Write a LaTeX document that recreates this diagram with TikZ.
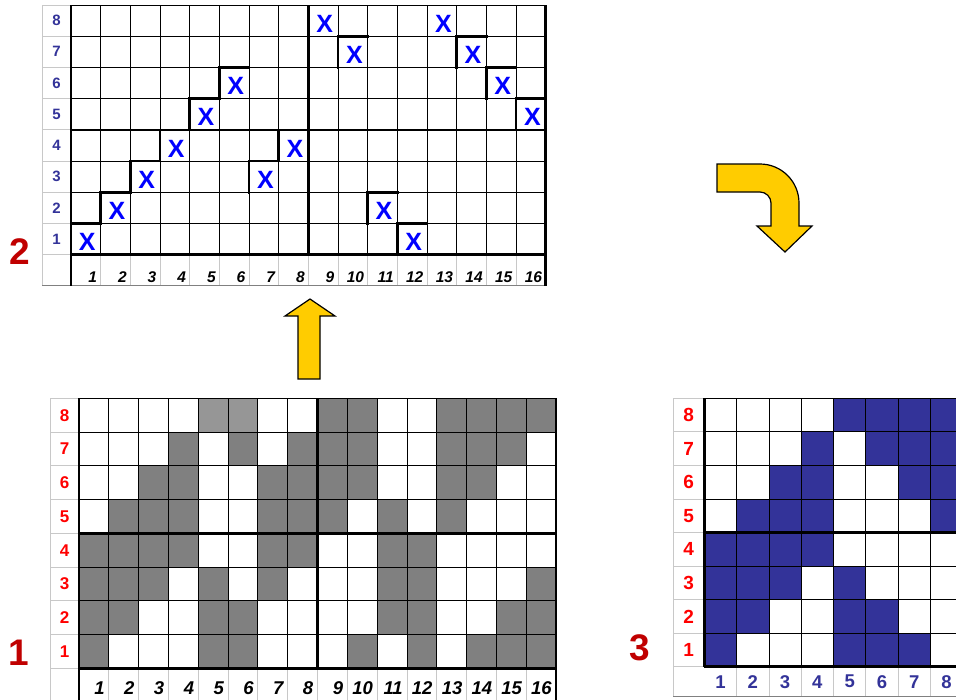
\documentclass[tikz,border=0pt]{standalone}
\usepackage{fontspec}
\setmainfont{Liberation Sans}
\definecolor{cellgray}{HTML}{808080}
\definecolor{lightcell}{HTML}{969696}
\definecolor{navy}{HTML}{333399}
\definecolor{xblue}{HTML}{0000FF}
\definecolor{bigred}{HTML}{C00000}
\definecolor{labred}{HTML}{FF0000}
\definecolor{arrowfill}{HTML}{FFCC00}
\definecolor{framegray}{HTML}{C8C8C8}
\definecolor{botgray}{HTML}{808080}
\newcommand\gridframe{%
  \foreach \i in {0,...,8} \draw[labline] (\grL,{\grY+\i*\grH}) -- (\grX,{\grY+\i*\grH});
  \draw[labline] (\grL,\grY) -- (\grL,\grB);
  \draw[labline] (\grX,\grY) -- ({\grX+\grN*\grW},\grY);
  \foreach \i in {1,...,\grN} \draw[labline] ({\grX+\i*\grW},{\grY+8*\grH}) -- ({\grX+\i*\grW},\grB);
  \draw[botline] (\grL,\grB) -- ({\grX+\grN*\grW},\grB);
  \foreach \i in {1,...,\grN} \draw[cellline] ({\grX+\i*\grW},\grY) -- ({\grX+\i*\grW},{\grY+8*\grH});
  \foreach \i in {0,...,7} \draw[cellline] (\grX,{\grY+\i*\grH}) -- ({\grX+\grN*\grW},{\grY+\i*\grH});
  \draw[thickline] (\grX,{\grY+8*\grH}) -- ({\grX+\grN*\grW},{\grY+8*\grH});
  \draw[thickline] (\grX,{\grY+4*\grH}) -- ({\grX+\grN*\grW},{\grY+4*\grH});
}
\newcommand\cellfill[3]{\fill[#1] ({\grX+(#2-1)*\grW},{\grY+(8-#3)*\grH}) rectangle ++(\grW,\grH);}
\begin{document}
\begin{tikzpicture}[x=1pt,y=-1pt,
  labline/.style={draw=framegray,line width=0.8pt},
  botline/.style={draw=botgray,line width=0.9pt},
  cellline/.style={draw=black,line width=0.8pt},
  thickline/.style={draw=black,line width=2.6pt},
  xmark/.style={text=xblue,font=\fontsize{25}{25}\selectfont\bfseries,inner sep=0pt},
  bignum/.style={text=bigred,font=\fontsize{37}{37}\selectfont\bfseries,inner sep=0pt},
  blockarrow/.style={fill=arrowfill,draw=black,line width=1.2pt,line join=miter}]
\useasboundingbox (0,0) rectangle (956,699);
\clip (0,0) rectangle (956,699);
\fill[white] (0,0) rectangle (956,699);

% ---------------- Grid 2 (top) ----------------
\def\grL{42}\def\grX{71}\def\grW{29.67}\def\grY{5}\def\grH{31.2}\def\grN{16}\def\grB{285.8}
\gridframe
\draw[thickline] (\grX,\grY) -- (\grX,\grB);
\draw[thickline] ({\grX+16*\grW},\grY) -- ({\grX+16*\grW},\grB);
\draw[thickline] ({\grX+8*\grW},\grY) -- ({\grX+8*\grW},{\grY+8*\grH});
\foreach \c/\r in {1/1,2/2,3/3,4/4,5/5,6/6,7/3,8/4,10/7,11/2,12/1,14/7,15/6,16/5}
  \draw[thickline,line cap=rect] ({\grX+(\c-1)*\grW},{\grY+(9-\r)*\grH}) -- ++(0,-\grH) -- ++(\grW,0);
\foreach \c/\r in {1/1,2/2,3/3,4/4,5/5,6/6,7/3,8/4,9/8,10/7,11/2,12/1,13/8,14/7,15/6,16/5}
  \node[xmark] (x2-\c) at ({\grX+(\c-0.45)*\grW},{\grY+(8.6-\r)*\grH}) {X};
\foreach \r in {1,...,8}
  \node[text=navy,font=\fontsize{15}{15}\selectfont\bfseries] (r2-\r) at ({(\grL+\grX)/2},{\grY+(8.5-\r)*\grH}) {\r};
\foreach \c in {1,...,16}
  \node[anchor=base east,font=\fontsize{15.5}{15}\selectfont\bfseries\itshape,inner sep=0pt] (c2-\c) at ({\grX+\c*\grW-3.5},282.5) {\c};
\node[bignum] (n2) at (20,251.5) {2};

% ---------------- Grid 1 (bottom left) ----------------
\def\grL{50}\def\grX{79}\def\grW{29.81}\def\grY{398.3}\def\grH{33.75}\def\grN{16}\def\grB{702}
\foreach \r/\cs in {8/{9,10,13,14,15,16},7/{4,6,8,9,10,13,14,15},6/{3,4,7,8,9,10,13,14},5/{2,3,4,7,8,9,11,13},4/{1,2,3,4,7,8,11,12},3/{1,2,3,5,7,11,12,16},2/{1,2,5,6,11,12,15,16},1/{1,5,6,10,12,14,15,16}}
  {\foreach \c in \cs {\cellfill{cellgray}{\c}{\r}}}
\cellfill{lightcell}{5}{8}
\cellfill{lightcell}{6}{8}
\gridframe
\draw[thickline] (\grX,\grY) -- (\grX,\grB);
\draw[thickline] ({\grX+16*\grW},\grY) -- ({\grX+16*\grW},\grB);
\draw[thickline] ({\grX+8*\grW},\grY) -- ({\grX+8*\grW},{\grY+8*\grH});
\foreach \r in {1,...,8}
  \node[text=labred,font=\fontsize{17}{17}\selectfont\bfseries] (r1-\r) at ({(\grL+\grX)/2},{\grY+(8.5-\r)*\grH}) {\r};
\foreach \c in {1,...,16}
  \node[anchor=base east,font=\fontsize{18.5}{18.5}\selectfont\bfseries\itshape,inner sep=0pt] (c1-\c) at ({\grX+\c*\grW-4},694.5) {\c};
\node[bignum] (n1) at (18.5,652.5) {1};

% ---------------- Grid 3 (bottom right) ----------------
\def\grL{673}\def\grX{704.3}\def\grW{32.3}\def\grY{398.3}\def\grH{33.55}\def\grN{8}\def\grB{696.5}
\foreach \r/\cs in {8/{5,6,7,8},7/{4,6,7,8},6/{3,4,7,8},5/{2,3,4,8},4/{1,2,3,4},3/{1,2,3,5},2/{1,2,5,6},1/{1,5,6,7}}
  {\foreach \c in \cs {\cellfill{navy}{\c}{\r}}}
\gridframe
\draw[thickline] (\grX,\grY) -- (\grX,{\grY+8*\grH});
\foreach \r in {1,...,8}
  \node[text=labred,font=\fontsize{19}{19}\selectfont\bfseries] (r3-\r) at ({(\grL+\grX)/2},{\grY+(8.5-\r)*\grH}) {\r};
\foreach \c in {1,...,8}
  \node[text=navy,font=\fontsize{18.5}{18.5}\selectfont\bfseries] (c3-\c) at ({\grX+(\c-0.5)*\grW},{\grY+8*\grH+15}) {\c};
\node[bignum] (n3) at (640,647.5) {3};

% ---------------- Block arrows ----------------
\draw[blockarrow] (310,299) -- (335,316) -- (320,316) -- (320,379) -- (298,379) -- (298,316) -- (285,316) -- cycle;
\draw[blockarrow] (717,164) -- (760,164) .. controls (781.5,164) and (799,181.5) .. (799,203)
  -- (799,226) -- (812,226) -- (785,252) -- (757,226) -- (771,226) -- (771,203)
  .. controls (771,197) and (766,192) .. (760,192) -- (717,192) -- cycle;
\end{tikzpicture}
\end{document}
